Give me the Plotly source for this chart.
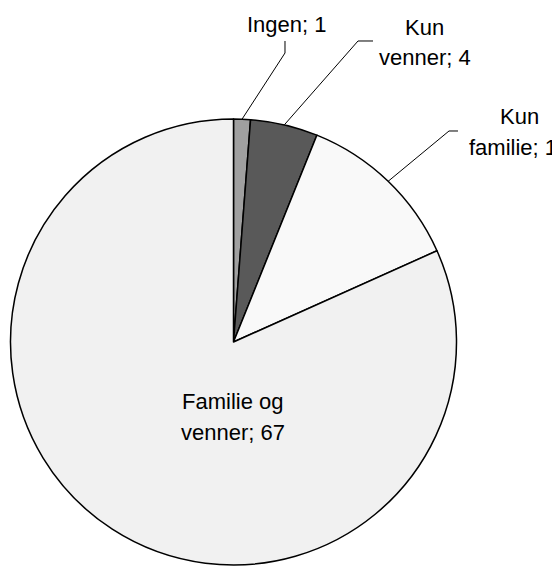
import numpy as np
import plotly.graph_objects as go

labels = ["Ingen", "Kun venner", "Kun familie", "Familie og venner"]
values = [1, 4, 10, 67]
label_text = ["Ingen; 1", "Kun<br>venner; 4", "Kun<br>familie; 10", "Familie og<br>venner; 67"]
colors = ["#A0A0A0", "#595959", "#F9F9F9", "#F1F1F1"]

W, H = 560, 566
OFF = 8  # page body margin
cx, cy, r = 233.5 - OFF, 342.0 - OFF, 223.0

fig = go.Figure(go.Pie(
    labels=labels, values=values, sort=False, direction="clockwise", rotation=0,
    textinfo="none", hoverinfo="label+value",
    marker=dict(colors=colors, line=dict(color="#000000", width=1.5)),
    domain=dict(x=[(cx - r) / W, (cx + r) / W], y=[(H - cy - r) / H, (H - cy + r) / H]),
    showlegend=False,
))

def px(x, y):
    return (x - OFF) / W, 1 - (y - OFF) / H

# label block centres (window pixels) and elbow points of leader lines
label_pos = [(287, 25), (424.5, 42.5), (519, 132), (232.5, 417)]
line_gap = 31
elbows = [[(285, 53), (285, 41)], [(358, 41), (373, 41)], [(449, 131), (458, 131)], None]

total = sum(values)
cum = np.cumsum([0] + values)
font = dict(family="Liberation Sans, Arial, sans-serif", size=22, color="#000000")
for i, txt in enumerate(label_text):
    lines = txt.split("<br>")
    n = len(lines)
    for j, ln in enumerate(lines):
        lx, ly = px(label_pos[i][0], label_pos[i][1] + (j - (n - 1) / 2) * line_gap)
        fig.add_annotation(x=lx, y=ly, xref="paper", yref="paper", text=ln, showarrow=False,
                           font=font, xanchor="center", yanchor="middle", align="center")
    if elbows[i] is not None:
        mid = (cum[i] + cum[i + 1]) / 2 / total * 2 * np.pi
        ex, ey = cx + OFF + r * np.sin(mid), cy + OFF - r * np.cos(mid)
        pts = [(ex, ey)] + elbows[i]
        path = "M " + " L ".join(f"{px(x, y)[0]:.5f},{px(x, y)[1]:.5f}" for x, y in pts)
        fig.add_shape(type="path", path=path, xref="paper", yref="paper",
                      line=dict(color="#000000", width=1))

fig.update_layout(width=W, height=H, margin=dict(l=0, r=0, t=0, b=0),
                  paper_bgcolor="white", plot_bgcolor="white")
fig.write_html("out.html")
